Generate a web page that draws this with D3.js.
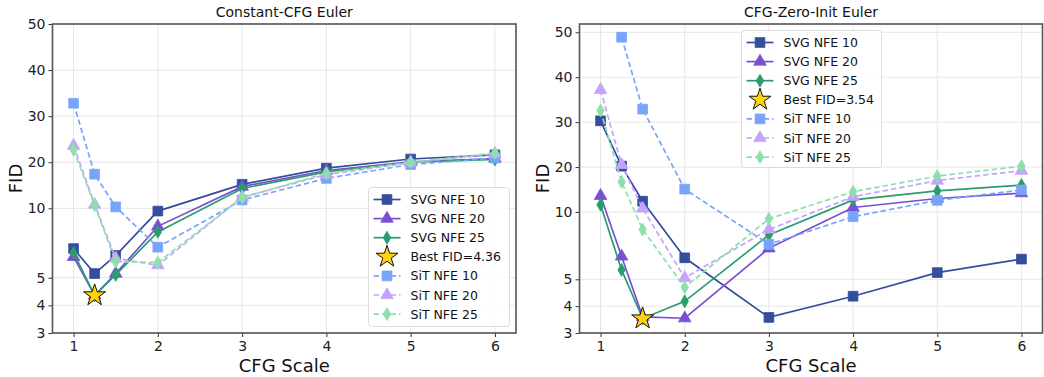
<!DOCTYPE html>
<html><head><meta charset="utf-8">
<script src="https://cdn.jsdelivr.net/npm/d3@7"></script>
<style>body{margin:0;background:#fff}svg{display:block;font-family:"DejaVu Sans",sans-serif}</style>
</head><body><svg id="c" width="1044" height="377"></svg>
<script>
const cfgScales = [1, 1.25, 1.5, 2, 3, 4, 5, 6];
const xTicks = [1, 2, 3, 4, 5, 6];
const yTicks = [3, 4, 5, 10, 20, 30, 40, 50];
const seriesNames = ["SVG NFE 10", "SVG NFE 20", "SVG NFE 25", "SiT NFE 10", "SiT NFE 20", "SiT NFE 25"];
// Constant-CFG Euler
const constSVG10 = [7.1, 5.3, 6.6, 9.8, 15.2, 18.7, 20.7, 21.6];
const constSVG20 = [6.5, 4.36, 5.3, 8.7, 14.7, 18.2, 20.1, 20.8];
const constSVG25 = [6.8, 4.36, 5.2, 8.3, 14.3, 17.9, 20.0, 20.6];
const constSiT10 = [32.8, 17.4, 10.3, 7.2, 11.8, 16.5, 19.5, 20.9];
const constSiT20 = [23.6, 10.8, 6.4, 5.9, 12.4, 17.3, 19.9, 21.8];
const constSiT25 = [22.7, 10.7, 6.15, 6.1, 12.3, 17.6, 20.0, 22.0];
const constBest = {x: 1.25, y: 4.36, label: "Best FID=4.36"};
// CFG-Zero-Init Euler
const zeroSVG10 = [30.3, 20.2, 12.4, 6.6, 3.58, 4.37, 5.5, 6.5];
const zeroSVG20 = [13.6, 6.7, 3.6, 3.55, 7.3, 11.0, 13.0, 14.2];
const zeroSVG25 = [11.6, 5.7, 3.54, 4.18, 8.3, 12.7, 14.7, 16.0];
const zeroSiT10 = [null, 48.9, 32.9, 15.1, 7.6, 9.65, 12.6, 14.9];
const zeroSiT20 = [37.2, 20.5, 10.8, 5.1, 8.7, 13.4, 17.0, 19.2];
const zeroSiT25 = [32.6, 16.7, 8.7, 4.7, 9.5, 14.5, 18.0, 20.2];
const zeroBest = {x: 1.5, y: 3.54, label: "Best FID=3.54"};

const colors = ["#344d9c", "#7a4fd4", "#2a9d6c", "#78a5fb", "#c4a4fb", "#8ddfac"];
const shapes = ["square", "triangle", "diamond", "square", "triangle", "diamond"];
const dashed = [false, false, false, true, true, true];

const svg = d3.select("#c");

function symPath(shape) {
  if (shape === "square") return d3.symbol(d3.symbolSquare, 95)();
  if (shape === "triangle") return d3.symbol(d3.symbolTriangle, 68)();
  if (shape === "diamond") return d3.symbol(d3.symbolDiamond, 48)();
  return d3.symbol(d3.symbolStar, 150)();
}

function panel(opts) {
  const {left, right, top, bottom, yDom, yRng, title, data, best, legend} = opts;
  const g = svg.append("g");
  const x = d3.scaleLinear().domain([0.75, 6.25]).range([left, right]);
  const y = d3.scaleLinear().domain(yDom).range(yRng);
  // grid
  g.append("g").selectAll("line").data(xTicks).join("line")
    .attr("x1", d => x(d)).attr("x2", d => x(d)).attr("y1", top).attr("y2", bottom)
    .attr("stroke", "#e6e6e6").attr("stroke-width", 1);
  g.append("g").selectAll("line").data(yTicks).join("line")
    .attr("x1", left).attr("x2", right).attr("y1", d => y(d)).attr("y2", d => y(d))
    .attr("stroke", "#e6e6e6").attr("stroke-width", 1);
  // axes
  const xa = g.append("g").attr("transform", `translate(0,${bottom})`)
    .call(d3.axisBottom(x).tickValues(xTicks).tickFormat(d3.format("d")).tickSize(4).tickPadding(4));
  const ya = g.append("g").attr("transform", `translate(${left},0)`)
    .call(d3.axisLeft(y).tickValues(yTicks).tickFormat(d3.format("d")).tickSize(4).tickPadding(3));
  [xa, ya].forEach(a => {
    a.select(".domain").remove();
    a.selectAll(".tick line").attr("stroke", "#333");
    a.selectAll(".tick text").attr("font-size", 14).attr("fill", "#222").attr("font-family", "DejaVu Sans");
  });
  // clip
  const cid = "clip" + Math.round(left);
  svg.append("clipPath").attr("id", cid).append("rect")
    .attr("x", left).attr("y", top).attr("width", right - left).attr("height", bottom - top);
  const plot = g.append("g").attr("clip-path", `url(#${cid})`);
  const line = d3.line().defined(d => d[1] != null).x(d => x(d[0])).y(d => y(d[1]));
  data.forEach((vals, i) => {
    const pts = cfgScales.map((c, j) => [c, vals[j]]);
    plot.append("path").attr("d", line(pts)).attr("fill", "none")
      .attr("stroke", colors[i]).attr("stroke-width", 1.7)
      .attr("stroke-dasharray", dashed[i] ? "5.5,3" : null);
    plot.selectAll(null).data(pts.filter(p => p[1] != null)).join("path")
      .attr("d", symPath(shapes[i]))
      .attr("transform", p => `translate(${x(p[0])},${y(p[1])})`)
      .attr("fill", colors[i]).attr("stroke", colors[i]).attr("stroke-width", 0.8);
  });
  g.append("path").attr("d", symPath("star"))
    .attr("transform", `translate(${x(best.x)},${y(best.y)})`)
    .attr("fill", "#ffd20a").attr("stroke", "#111").attr("stroke-width", 1);
  // frame
  g.append("rect").attr("x", left).attr("y", top).attr("width", right - left).attr("height", bottom - top)
    .attr("fill", "none").attr("stroke", "#555").attr("stroke-width", 1.6);
  // labels
  g.append("text").attr("x", (left + right) / 2).attr("y", 17).attr("text-anchor", "middle")
    .attr("font-size", 14).attr("fill", "#111").text(title);
  g.append("text").attr("x", (left + right) / 2).attr("y", 372).attr("text-anchor", "middle")
    .attr("font-size", 18).attr("fill", "#111").text("CFG Scale");
  g.append("text").attr("transform", `translate(${left - 30.5},${(top + bottom) / 2}) rotate(-90)`)
    .attr("text-anchor", "middle").attr("font-size", 18).attr("fill", "#111").text("FID");
  // legend
  const L = legend;
  const lg = g.append("g");
  lg.append("rect").attr("x", L.x).attr("y", L.y).attr("width", L.w).attr("height", L.h).attr("rx", 3)
    .attr("fill", "#fff").attr("fill-opacity", 0.85).attr("stroke", "#dcdcdc").attr("stroke-width", 1);
  const entries = [
    {name: seriesNames[0], i: 0}, {name: seriesNames[1], i: 1}, {name: seriesNames[2], i: 2},
    {name: best.label, i: -1},
    {name: seriesNames[3], i: 3}, {name: seriesNames[4], i: 4}, {name: seriesNames[5], i: 5}
  ];
  entries.forEach((e, k) => {
    const yy = L.y + 12 + k * 19.1;
    const x0 = L.x + 5, x1 = L.x + 32, xm = (x0 + x1) / 2;
    if (e.i >= 0) {
      lg.append("line").attr("x1", x0).attr("x2", x1).attr("y1", yy).attr("y2", yy)
        .attr("stroke", colors[e.i]).attr("stroke-width", 1.7)
        .attr("stroke-dasharray", dashed[e.i] ? "5.5,3" : null);
      lg.append("path").attr("d", symPath(shapes[e.i])).attr("transform", `translate(${xm},${yy})`)
        .attr("fill", colors[e.i]).attr("stroke", colors[e.i]).attr("stroke-width", 0.8);
    } else {
      lg.append("path").attr("d", symPath("star")).attr("transform", `translate(${xm},${yy})`)
        .attr("fill", "#ffd20a").attr("stroke", "#111").attr("stroke-width", 1);
    }
    lg.append("text").attr("x", L.x + 42).attr("y", yy + 4.5).attr("font-size", 12.5)
      .attr("fill", "#111").text(e.name);
  });
}

panel({left: 52.5, right: 516, top: 24, bottom: 333,
  yDom: [3, 5, 10, 50], yRng: [333, 277.7, 208.3, 24],
  title: "Constant-CFG Euler",
  data: [constSVG10, constSVG20, constSVG25, constSiT10, constSiT20, constSiT25],
  best: constBest, legend: {x: 368.5, y: 187.5, w: 141, h: 139}});
panel({left: 579.5, right: 1042.5, top: 24, bottom: 333,
  yDom: [3, 5, 10, 50], yRng: [333, 279.3, 212, 32.3],
  title: "CFG-Zero-Init Euler",
  data: [zeroSVG10, zeroSVG20, zeroSVG25, zeroSiT10, zeroSiT20, zeroSiT25],
  best: zeroBest, legend: {x: 741.5, y: 30.5, w: 140, h: 137}});
</script></body></html>
